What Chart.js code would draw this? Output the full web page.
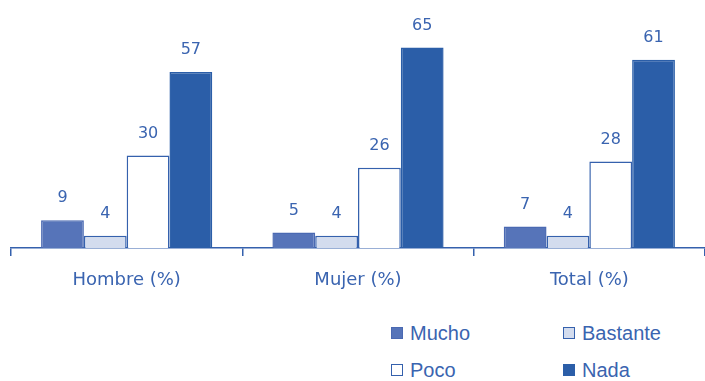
<!DOCTYPE html>
<html>
<head>
<meta charset="utf-8">
<script src="https://cdn.jsdelivr.net/npm/chart.js@4/dist/chart.umd.min.js"></script>
<style>
  html, body { margin: 0; padding: 0; background: #ffffff; }
  #wrap { position: relative; width: 705px; height: 381px; overflow: hidden; }
  #plot { position: absolute; left: 0; top: 0; width: 705px; height: 300px; }
  .leg { position: absolute; font-family: "Liberation Sans", Arial, sans-serif; font-size: 20px; color: #3a64b0; line-height: 20px; white-space: nowrap; }
  .sw { position: absolute; width: 10px; height: 10px; border: 1.5px solid #3561ad; }
</style>
</head>
<body>
<div id="wrap">
  <div id="plot"><canvas id="c"></canvas></div>
  <div id="legend"></div>
</div>
<script>
// Categories, series and their values
const categories = ["Hombre (%)", "Mujer (%)", "Total (%)"];
const seriesNames = ["Mucho", "Bastante", "Poco", "Nada"];
const mucho    = [9, 5, 7];
const bastante = [4, 4, 4];
const poco     = [30, 26, 28];
const nada     = [57, 65, 61];

const blue = "#3a64b0";
const edge = "#3561ad";
const fills = ["#5674b9", "#d3dcee", "#ffffff", "#2b5ea8"];
const borders = ["#4a69b2", edge, edge, "#2b5ea8"];
const values = [mucho, bastante, poco, nada];

const datasets = seriesNames.map((name, i) => ({
  label: name,
  data: values[i],
  backgroundColor: fills[i],
  borderColor: borders[i],
  borderWidth: 1.5,
  borderSkipped: "bottom",
  categoryPercentage: 0.74,
  barPercentage: 1.0
}));

// Writes each bar's value above it
const valueLabels = {
  id: "valueLabels",
  afterDatasetsDraw(chart) {
    const ctx = chart.ctx;
    ctx.save();
    ctx.font = '16px "DejaVu Sans", sans-serif';
    ctx.fillStyle = blue;
    ctx.textAlign = "center";
    ctx.textBaseline = "middle";
    chart.data.datasets.forEach((ds, di) => {
      chart.getDatasetMeta(di).data.forEach((bar, j) => {
        ctx.fillText(String(ds.data[j]), bar.x, bar.y - 22);
      });
    });
    ctx.restore();
  }
};

new Chart(document.getElementById("c"), {
  type: "bar",
  data: { labels: categories, datasets },
  plugins: [valueLabels],
  options: {
    responsive: true,
    maintainAspectRatio: false,
    animation: false,
    layout: { padding: { left: 11, right: 0, top: 32, bottom: 0 } },
    plugins: { legend: { display: false }, tooltip: { enabled: false } },
    scales: {
      x: {
        afterFit(scale) { scale.height = 52; },
        grid: { display: true, offset: true, drawOnChartArea: false, drawTicks: true, tickLength: 8, color: edge, lineWidth: 1.5 },
        border: { display: true, color: edge, width: 1.5 },
        ticks: { color: blue, font: { family: '"DejaVu Sans", sans-serif', size: 18 }, padding: 14 }
      },
      y: { display: false, min: 0, max: 70 }
    }
  }
});

// Two-column legend under the plot
const legendPos = [
  { x: 391, y: 323 }, { x: 563, y: 323 },
  { x: 391, y: 360 }, { x: 563, y: 360 }
];
const legend = document.getElementById("legend");
seriesNames.forEach((name, i) => {
  const p = legendPos[i];
  const sw = document.createElement("div");
  sw.className = "sw";
  sw.style.left = p.x + "px";
  sw.style.top = (p.y + 4) + "px";
  sw.style.background = fills[i];
  sw.style.borderColor = borders[i];
  legend.appendChild(sw);
  const t = document.createElement("div");
  t.className = "leg";
  t.style.left = (p.x + 19) + "px";
  t.style.top = p.y + "px";
  t.textContent = name;
  legend.appendChild(t);
});
</script>
</body>
</html>
